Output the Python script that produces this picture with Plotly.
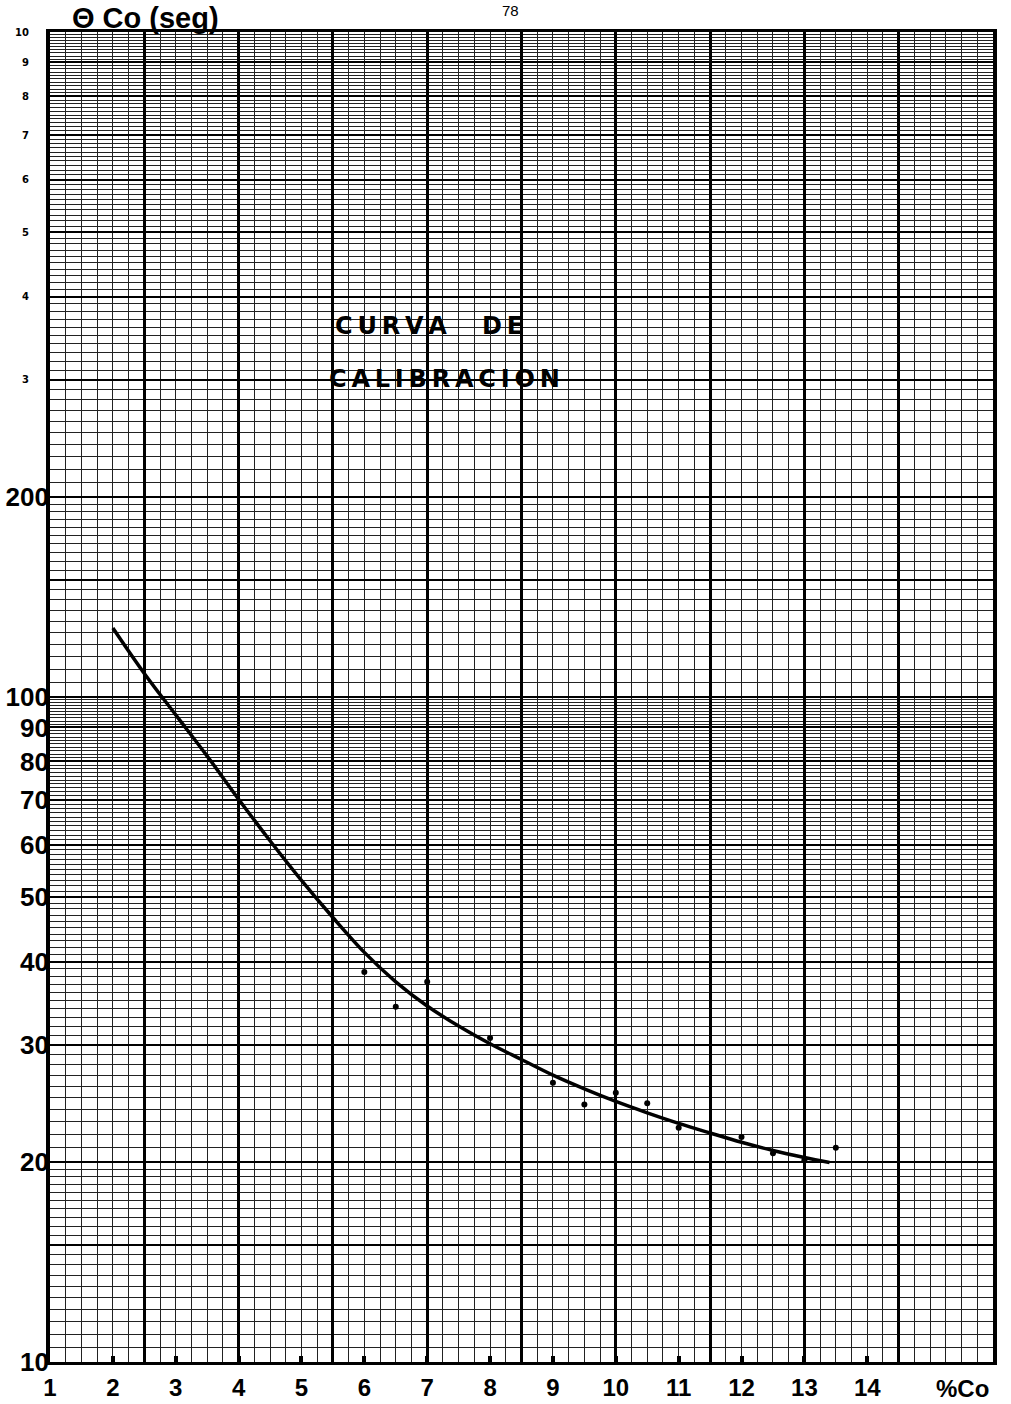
import numpy as np
import plotly.graph_objects as go

# ---- data ----
curve_x = [2.0, 2.5, 3.0, 3.5, 4.0, 4.5, 5.0, 5.5, 6.0, 6.5, 7.0, 7.5, 8.0, 8.5,
           9.0, 9.5, 10.0, 10.5, 11.0, 11.5, 12.0, 12.5, 13.0, 13.4]
curve_y = [127, 108.5, 94, 81.5, 70.2, 60.8, 53.0, 46.6, 41.3, 37.3, 34.3, 32.0,
           30.1, 28.5, 27.0, 25.75, 24.65, 23.7, 22.85, 22.1, 21.4, 20.8, 20.3, 19.95]

points_x = [6.0, 6.5, 7.0, 8.0, 9.0, 9.5, 10.0, 10.5, 11.0, 12.0, 12.5, 13.0, 13.5]
points_y = [38.6, 34.2, 37.3, 30.7, 26.3, 24.4, 25.4, 24.5, 22.5, 21.8, 20.6, 20.1, 21.0]

x_tick_vals = [1, 2, 3, 4, 5, 6, 7, 8, 9, 10, 11, 12, 13, 14]
x_tick_text = ["1", "2", "3", "4", "5", "6", "7", "8", "9", "10", "11", "12", "13", "14"]

y_big_vals = [10, 20, 30, 40, 50, 60, 70, 80, 90, 100, 200]
y_big_text = ["10", "20", "30", "40", "50", "60", "70", "80", "90", "100", "200"]

y_small_vals = [300, 400, 500, 600, 700, 800, 900, 1000]
y_small_text = ["3", "4", "5", "6", "7", "8", "9", "10"]

# ---- graph-paper grid definition ----
x_major_grid = list(np.arange(1, 16.01, 1.5))
x_minor_grid = list(np.arange(1, 16.001, 0.25))

y_minor_grid = (list(np.arange(10, 20, 0.5)) + list(np.arange(20, 100, 1)) +
                list(np.arange(100, 200, 5)) + list(np.arange(200, 1001, 10)))
y_major_grid = [10, 15, 20, 30, 40, 50, 60, 70, 80, 90, 100,
                150, 200, 300, 400, 500, 600, 700, 800, 900, 1000]

hand_font = dict(family="Liberation Sans, Arial, sans-serif", size=26, color="black", weight="bold")
xlab_font = dict(family="Liberation Sans, Arial, sans-serif", size=24, color="black", weight="bold")

fig = go.Figure()

fig.add_trace(go.Scatter(
    x=curve_x, y=curve_y, mode="lines",
    line=dict(color="black", width=3.5, shape="spline", smoothing=1.0),
    showlegend=False, hoverinfo="skip"))

fig.add_trace(go.Scatter(
    x=points_x, y=points_y, mode="markers",
    marker=dict(color="black", size=6),
    showlegend=False, hoverinfo="skip"))

# dummy traces so the label-only overlay axes are drawn
fig.add_trace(go.Scatter(x=[None], y=[None], xaxis="x2", yaxis="y2", showlegend=False, hoverinfo="skip"))
fig.add_trace(go.Scatter(x=[None], y=[None], xaxis="x", yaxis="y3", showlegend=False, hoverinfo="skip"))

fig.update_layout(
    width=1011, height=1404,
    margin=dict(l=50, r=18, t=32, b=42, autoexpand=False),
    paper_bgcolor="white", plot_bgcolor="white",
    xaxis=dict(
        range=[1, 16], tickmode="array", tickvals=x_major_grid, showticklabels=False,
        showgrid=True, gridcolor="black", gridwidth=2.5, automargin=False,
        ticks="", zeroline=False,
        showline=True, linecolor="black", linewidth=3, mirror=True,
        minor=dict(tickmode="array", tickvals=x_minor_grid, showgrid=True,
                   gridcolor="#222222", gridwidth=1.1, ticks=""),
    ),
    yaxis=dict(
        type="log", range=[1, 3], tickmode="array", tickvals=y_major_grid, showticklabels=False,
        showgrid=True, gridcolor="black", gridwidth=2.2, automargin=False,
        ticks="", zeroline=False,
        showline=True, linecolor="black", linewidth=4, mirror=True,
        minor=dict(tickmode="array", tickvals=y_minor_grid, showgrid=True,
                   gridcolor="#222222", gridwidth=1.0, ticks=""),
    ),
    xaxis2=dict(
        overlaying="x", anchor="y", side="bottom", range=[1, 16], automargin=False,
        tickmode="array", tickvals=x_tick_vals, ticktext=x_tick_text,
        tickfont=xlab_font, showgrid=False, zeroline=False,
        ticks="inside", ticklen=6, tickwidth=4, tickcolor="black",
        ticklabelstandoff=9,
    ),
    yaxis2=dict(
        overlaying="y", anchor="x", side="left", type="log", range=[1, 3], automargin=False,
        tickmode="array", tickvals=y_big_vals, ticktext=y_big_text,
        tickfont=hand_font, showgrid=False, zeroline=False, ticks="",
        ticklabelstandoff=0,
    ),
    yaxis3=dict(
        overlaying="y", anchor="x", side="left", type="log", range=[1, 3], automargin=False,
        tickmode="array", tickvals=y_small_vals, ticktext=y_small_text,
        tickfont=dict(family="DejaVu Sans, sans-serif", size=10, color="black", weight="bold"),
        showgrid=False, zeroline=False, ticks="",
        ticklabelstandoff=20,
    ),
)

def px_to_paper(px, py):
    return (px - 50) / 943.0, (1362 - py) / 1330.0

def spaced(s):
    return "\u2009".join(list(s))

ann = []
x, y = px_to_paper(145, 18)
ann.append(dict(text="Θ Co (seg)", x=x, y=y, xanchor="center", yanchor="middle",
                font=dict(family="Liberation Sans, Arial, sans-serif", size=29, color="black", weight="bold")))
x, y = px_to_paper(510, 10)
ann.append(dict(text="78", x=x, y=y, xanchor="center", yanchor="middle",
                font=dict(family="Liberation Sans, Arial, sans-serif", size=15, color="black")))
stencil = dict(family="DejaVu Sans, sans-serif", size=24, color="black", weight="bold")
x, y = px_to_paper(333, 326)
ann.append(dict(text=spaced("CURVA"), x=x, y=y, xanchor="left", yanchor="middle", font=stencil))
x, y = px_to_paper(480, 326)
ann.append(dict(text=spaced("DE"), x=x, y=y, xanchor="left", yanchor="middle", font=stencil))
x, y = px_to_paper(327, 379)
ann.append(dict(text=spaced("CALIBRACION"), x=x, y=y, xanchor="left", yanchor="middle", font=stencil))
x, y = px_to_paper(962, 1388)
ann.append(dict(text="%Co", x=x, y=y, xanchor="center", yanchor="middle", font=xlab_font))

for a in ann:
    a.update(xref="paper", yref="paper", showarrow=False)
fig.update_layout(annotations=ann)

fig.write_html("out.html")
